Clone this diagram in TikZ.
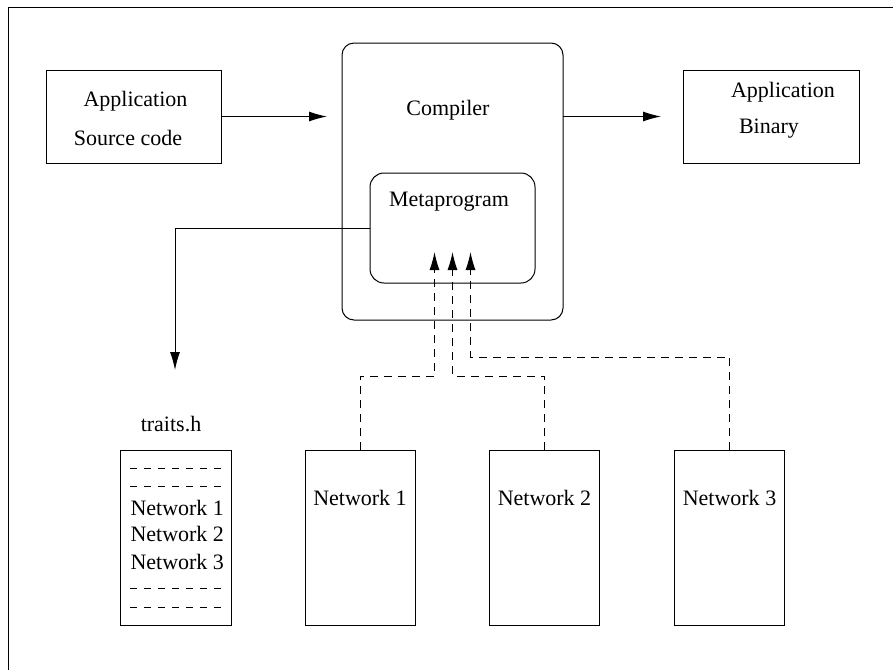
\documentclass[tikz,border=0pt]{standalone}
\usepackage{fontspec}
\setmainfont{Liberation Serif}
\usetikzlibrary{arrows.meta}

\tikzset{
  box/.style={draw, inner sep=0pt, outer sep=0pt},
  lbl/.style={inner sep=0pt, font=\fontsize{11}{13}\selectfont},
  flow/.style={-{Latex[length=9pt,width=5pt]}},
  link/.style={flow, dash pattern=on 4pt off 3pt},
  sepline/.style={dash pattern=on 3.5pt off 3.5pt},
}

\begin{document}
\begin{tikzpicture}[x=0.5pt,y=-0.5pt,line width=0.5pt]

	\useasboundingbox (0,0) rectangle (893,670);
	\draw (8,670) -- (8,7) -- (893,7);

	\node[box, minimum width=87.5pt, minimum height=46.5pt] (src) at (133.5,116.5) {};
	\node[lbl] (srctop) at (135.5,101) {Application};
	\node[lbl] (srcbot) at (128,137.5) {Source code};

	\node[box, rounded corners=6pt, minimum width=110.5pt, minimum height=138.5pt] (comp) at (452.5,181.5) {};
	\node[lbl] (complbl) at (448,110) {Compiler};

	\node[box, rounded corners=7pt, minimum width=82.5pt, minimum height=55pt] (meta) at (452.5,228) {};
	\node[lbl] (metalbl) at (449,202) {Metaprogram};

	\node[box, minimum width=88pt, minimum height=46.5pt] (bin) at (771,116.5) {};
	\node[lbl] (bintop) at (783,92) {Application};
	\node[lbl] (binbot) at (769,129) {Binary};

	\draw [flow, shorten >=7.5pt] (src.east) -- (src.east -| comp.west);
	\draw [flow, shorten >=11pt] (bin.west -| comp.east) -- (bin.west);

	\node[lbl] (traitslbl) at (171,424) {traits.h};
	\node[box, minimum width=55.5pt, minimum height=87.5pt] (traits) at (175.5,537.5) {};
	\foreach \y in {468,486,588,607} {
		\draw [sepline] (130,\y) -- (221,\y);
	}
	\foreach \i/\y in {1/508,2/534,3/562} {
		\node[lbl, anchor=west] (tnet\i) at (130,\y) {Network \i};
	}

	\coordinate (tr) at (175,370);
	\draw [flow] (meta.west) -| (tr);

	\foreach \i/\x/\dx/\yy in {1/360/-18/376, 2/544.5/0/376, 3/729.5/18/357} {
		\node[box, minimum width=55pt, minimum height=87.5pt] (net\i) at (\x,537.5) {};
		\node[lbl] (netlbl\i) at (\x,498) {Network \i};
		\coordinate (in\i) at (452.5+\dx,252);
		\coordinate (jn\i) at (452.5+\dx,\yy);
		\draw [link] (net\i.north) |- (jn\i) -- (in\i);
	}

\end{tikzpicture}
\end{document}
